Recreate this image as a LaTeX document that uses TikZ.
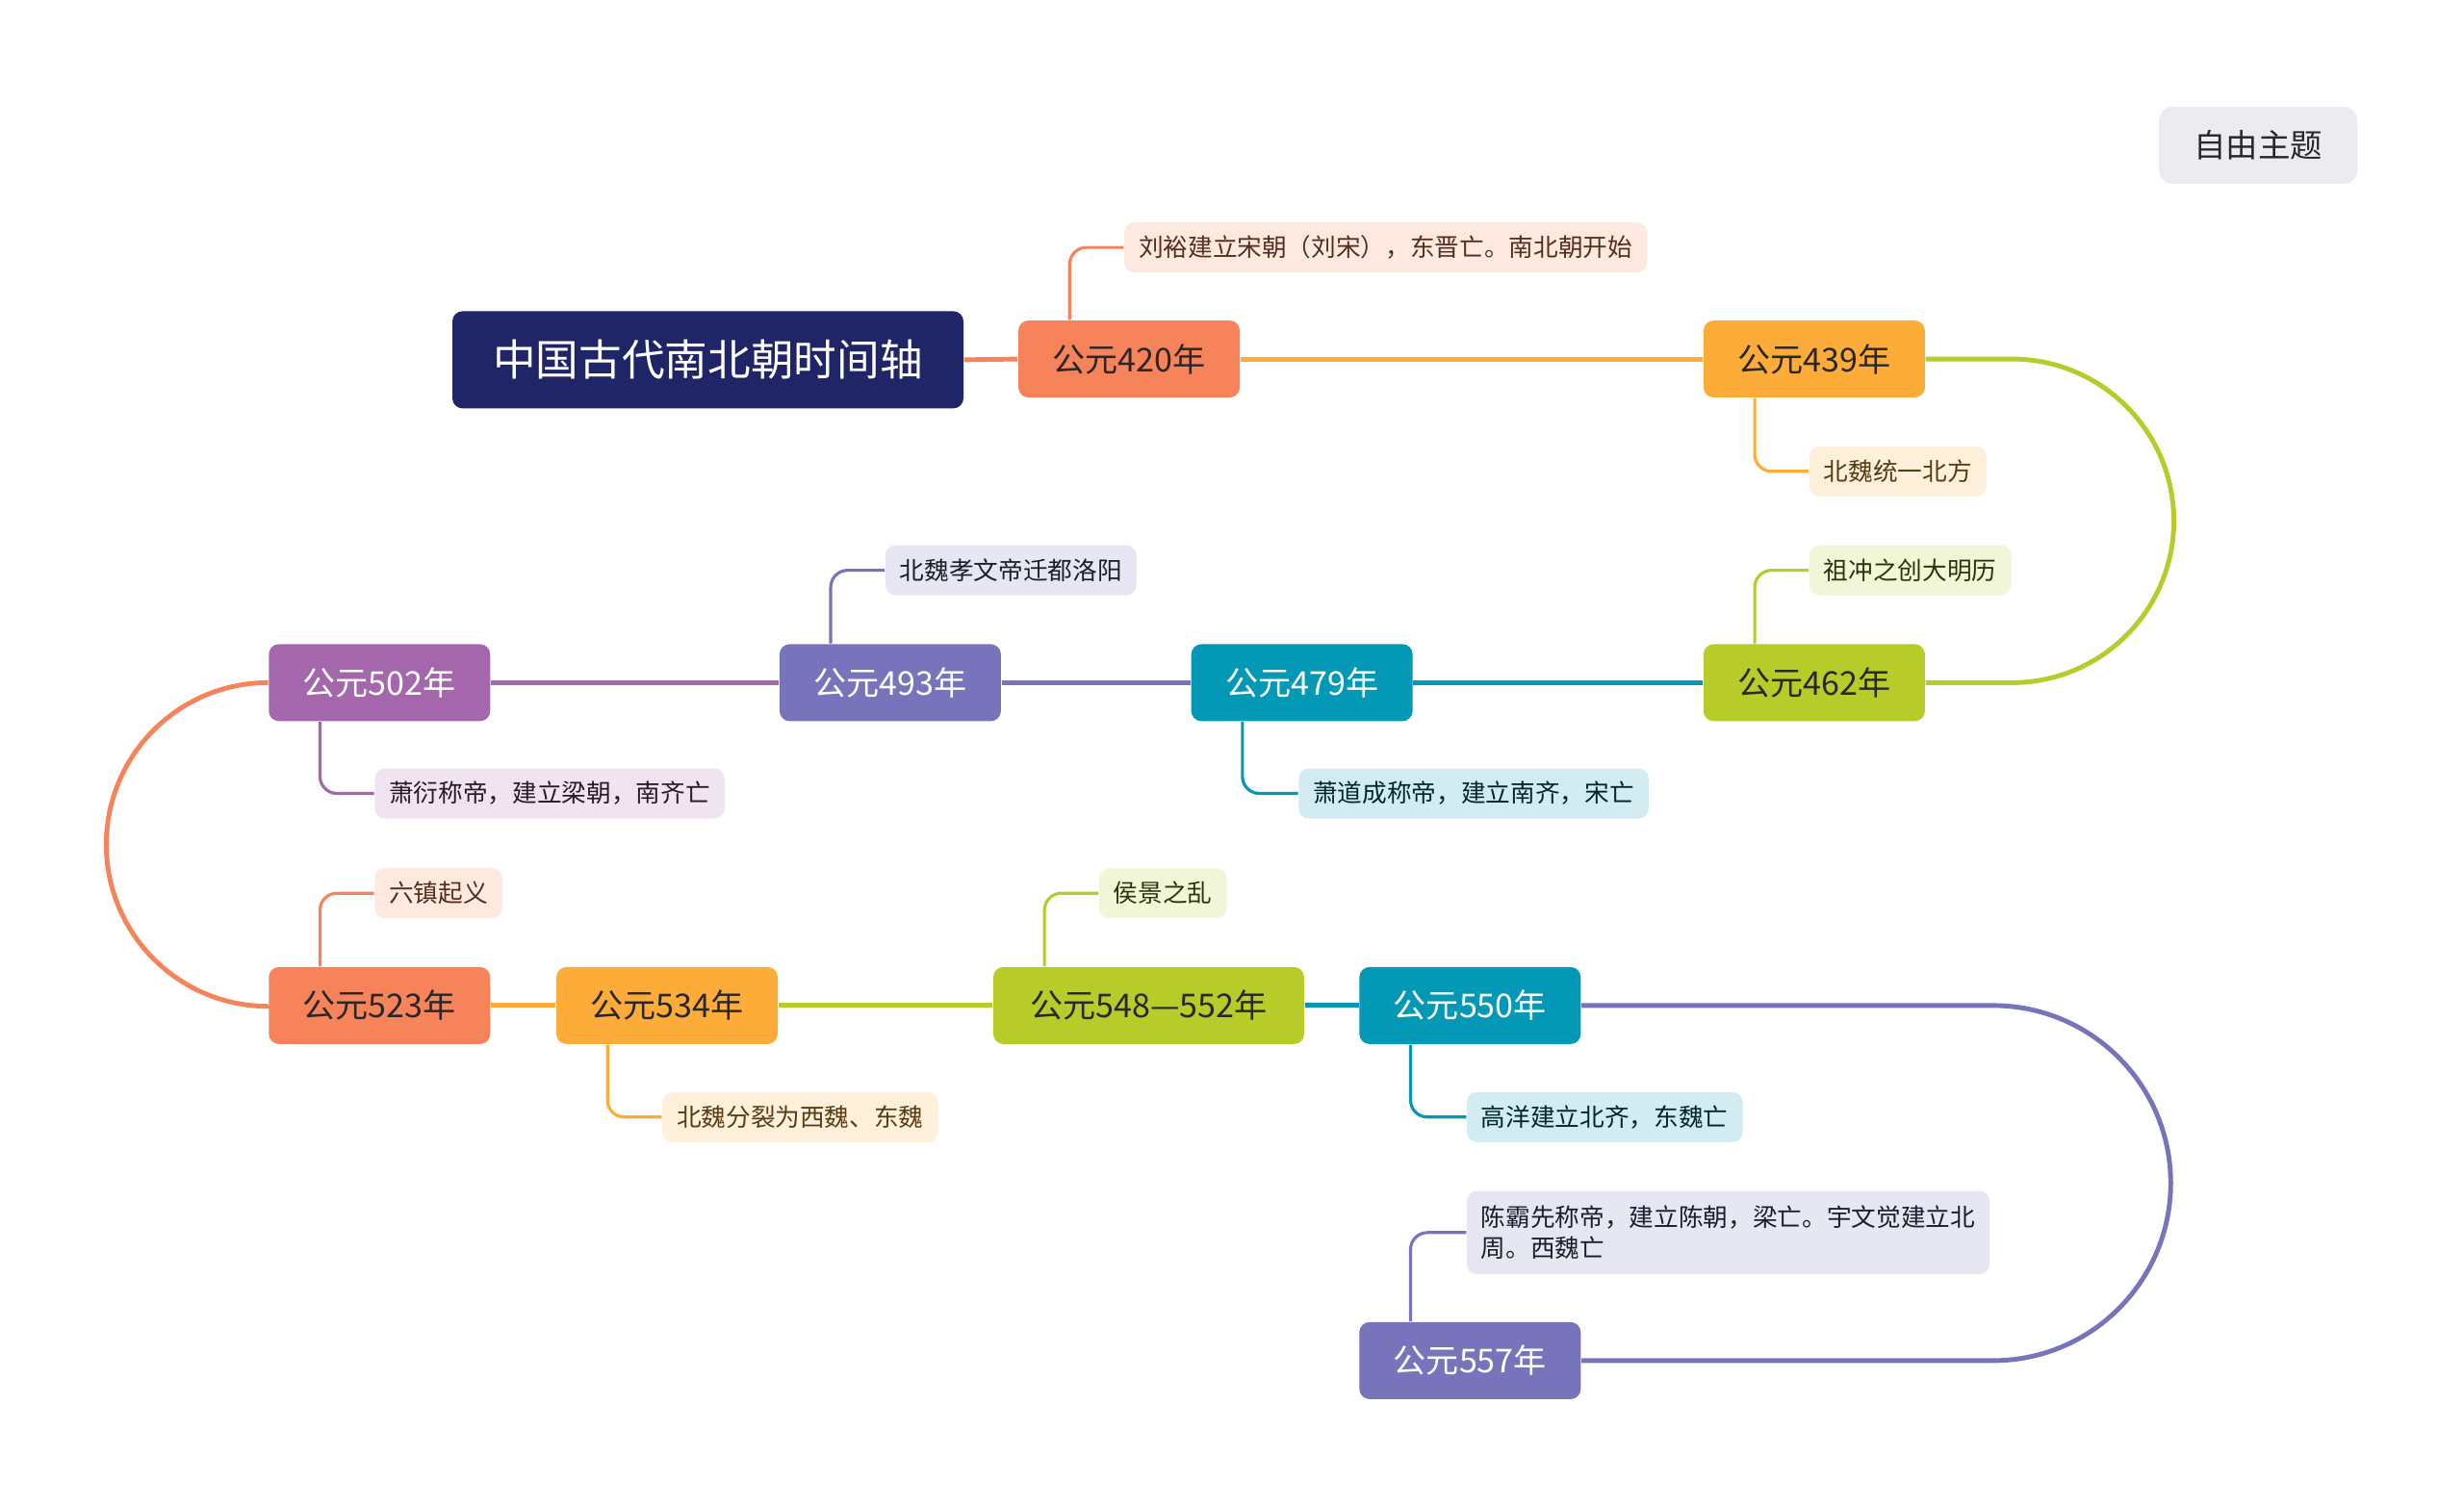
\documentclass[tikz,border=0pt]{standalone}
\usepackage{fontspec}
\setmainfont{Noto Sans CJK SC}
\usepackage{tikz}
\usetikzlibrary{positioning, calc}
\usepackage{xcolor}
\definecolor{meumarinho}{RGB}{31, 37, 103}
\definecolor{meucoral}{RGB}{247, 131, 90}
\definecolor{meularanja}{RGB}{253, 172, 58}
\definecolor{meulima}{RGB}{183, 203, 41}
\definecolor{meuteal}{RGB}{3, 152, 182}
\definecolor{meuindigo}{RGB}{120, 116, 187}
\definecolor{meuroxo}{RGB}{164, 103, 171}
\definecolor{meucinza}{RGB}{236, 236, 240}
\definecolor{meutexto}{RGB}{40, 40, 40}

\begin{document}
\begin{tikzpicture}[
    x=0.016327cm, y=-0.016327cm,
    ano/.style={rounded corners=3pt, minimum width=2.30cm, minimum height=0.80cm, align=center, inner sep=0pt, font=\fontsize{9.7}{11.6}\selectfont},
    claro/.style={ano, text=meutexto},
    escuro/.style={ano, text=white},
    fato/.style={rounded corners=3pt, anchor=west, minimum height=0.52cm, inner xsep=0.15cm, inner ysep=0pt, align=left, font=\fontsize{7.3}{9.3}\selectfont},
    linha/.style={line width=1.4pt},
    galho/.style={line width=0.9pt, rounded corners=5pt},
]
\useasboundingbox (0,0) rectangle (1568,959);

% ── Título e tema ──────────────────────────────────
\node[rounded corners=3pt, fill=meumarinho, text=white, minimum width=5.31cm, minimum height=1.01cm, font=\fontsize{12.7}{15}\selectfont] (titulo) at (450.5,229) {中国古代南北朝时间轴};
\node[rounded corners=4pt, fill=meucinza, text=meutexto, minimum width=2.06cm, minimum height=0.80cm, font=\fontsize{9.5}{11}\selectfont] (tema) at (1437,92.5) {自由主题};

% ── Anos (linha do tempo) ──────────────────────────
\node[claro, fill=meucoral]   (a420) at (718.5,228.5)  {公元420年};
\node[claro, fill=meularanja] (a439) at (1154.5,228.5) {公元439年};
\node[claro, fill=meulima]    (a462) at (1154.5,434.5) {公元462年};
\node[escuro, fill=meuteal]   (a479) at (828.5,434.5)  {公元479年};
\node[escuro, fill=meuindigo] (a493) at (566.5,434.5)  {公元493年};
\node[escuro, fill=meuroxo]   (a502) at (241.5,434.5)  {公元502年};
\node[claro, fill=meucoral]   (a523) at (241.5,640)    {公元523年};
\node[claro, fill=meularanja] (a534) at (424.5,640)    {公元534年};
\node[claro, fill=meulima, minimum width=3.23cm] (a548) at (731,640) {公元548—552年};
\node[escuro, fill=meuteal]   (a550) at (935.5,640)    {公元550年};
\node[escuro, fill=meuindigo] (a557) at (935.5,866)    {公元557年};

% Ligações principais
\draw[linha, meucoral]   (titulo.east) -- (a420.west);
\draw[linha, meularanja] (a420.east) -- (a439.west);
\draw[linha, meulima]    (a439.east) -- ++(55,0) arc[start angle=-90, end angle=90, radius=103] -- (a462.east);
\draw[linha, meuteal]    (a462.west) -- (a479.east);
\draw[linha, meuindigo]  (a479.west) -- (a493.east);
\draw[linha, meuroxo]    (a493.west) -- (a502.east);
\draw[linha, meucoral]   (a502.west) arc[start angle=-90, end angle=-270, radius=103] -- (a523.west);
\draw[linha, meularanja] (a523.east) -- (a534.west);
\draw[linha, meulima]    (a534.east) -- (a548.west);
\draw[linha, meuteal]    (a548.east) -- (a550.west);
\draw[linha, meuindigo]  (a550.east) -- ++(262,0) arc[start angle=-90, end angle=90, radius=113] -- (a557.east);

% ── Fatos ──────────────────────────────────────────
\node[fato, fill=meucoral!18, text=meucoral!35!black]     (f420) at (715,157.5) {刘裕建立宋朝（刘宋），东晋亡。南北朝开始};
\node[fato, fill=meularanja!18, text=meularanja!35!black] (f439) at (1151,300)  {北魏统一北方};
\node[fato, fill=meulima!18, text=meulima!25!black]       (f462) at (1151,363)  {祖冲之创大明历};
\node[fato, fill=meuindigo!18, text=meuindigo!25!black]   (f493) at (563,363)   {北魏孝文帝迁都洛阳};
\node[fato, fill=meuroxo!18, text=meuroxo!25!black]       (f502) at (238,505)   {萧衍称帝，建立梁朝，南齐亡};
\node[fato, fill=meuteal!18, text=meuteal!25!black]       (f479) at (826,505)   {萧道成称帝，建立南齐，宋亡};
\node[fato, fill=meucoral!18, text=meucoral!35!black]     (f523) at (238,568.5) {六镇起义};
\node[fato, fill=meularanja!18, text=meularanja!35!black] (f534) at (421,711)   {北魏分裂为西魏、东魏};
\node[fato, fill=meulima!18, text=meulima!25!black]       (f548) at (699,568.5) {侯景之乱};
\node[fato, fill=meuteal!18, text=meuteal!25!black]       (f550) at (933,711)   {高洋建立北齐，东魏亡};
\node[fato, fill=meuindigo!18, text=meuindigo!25!black, minimum height=0.865cm] (f557) at (933,784.5) {陈霸先称帝，建立陈朝，梁亡。宇文觉建立北\\周。西魏亡};

% Ligações dos fatos
\draw[galho, meucoral]   ($(a420.north west)+(33,0)$) |- (f420.west);
\draw[galho, meularanja] ($(a439.south west)+(33,0)$) |- (f439.west);
\draw[galho, meulima]    ($(a462.north west)+(33,0)$) |- (f462.west);
\draw[galho, meuindigo]  ($(a493.north west)+(33,0)$) |- (f493.west);
\draw[galho, meuroxo]    ($(a502.south west)+(33,0)$) |- (f502.west);
\draw[galho, meuteal]    ($(a479.south west)+(33,0)$) |- (f479.west);
\draw[galho, meucoral]   ($(a523.north west)+(33,0)$) |- (f523.west);
\draw[galho, meularanja] ($(a534.south west)+(33,0)$) |- (f534.west);
\draw[galho, meulima]    ($(a548.north west)+(33,0)$) |- (f548.west);
\draw[galho, meuteal]    ($(a550.south west)+(33,0)$) |- (f550.west);
\draw[galho, meuindigo]  ($(a557.north west)+(33,0)$) |- (f557.west);

\end{tikzpicture}
\end{document}
